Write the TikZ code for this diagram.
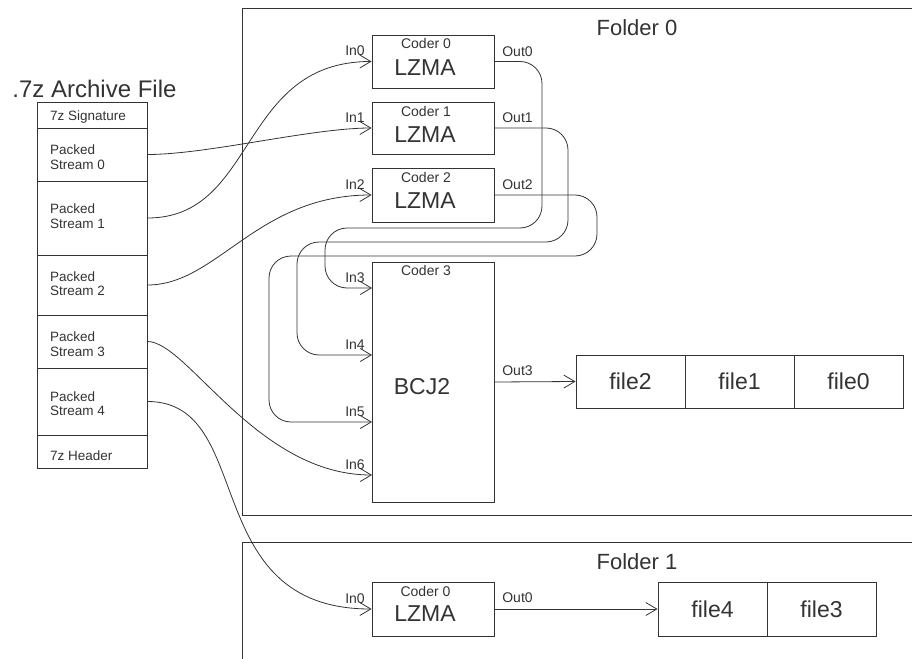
\documentclass[tikz,border=0pt]{standalone}
\usepackage{fontspec}
\setmainfont{Liberation Sans}
\usetikzlibrary{arrows.meta}
\definecolor{ink}{HTML}{333333}
\tikzset{
  cell/.style={draw=ink, line width=0.9pt, rectangle, inner sep=0pt, minimum width=#1},
  conn/.style={draw=ink, line width=0.8pt, -{Straight Barb[length=11pt,width=13pt,line width=0.8pt]}},
  lbl/.style={font=\fontsize{14}{16}\selectfont, inner sep=0pt, text=ink},
  small/.style={font=\fontsize{13.5}{14.5}\selectfont, inner sep=0pt, text=ink, align=left, anchor=west},
  big/.style={font=\fontsize{23}{26}\selectfont, inner sep=0pt, text=ink},
  frame/.style={draw=ink, line width=1pt}
}
\begin{document}
\begin{tikzpicture}[x=1pt,y=-1pt]
\useasboundingbox (0,0) rectangle (912,658);
% folders
\draw[frame] (913,9) -- (242,9) -- (242,515) -- (913,515);
\draw[frame] (913,542) -- (242,542) -- (242,659);
\node[font=\fontsize{22}{24}\selectfont, inner sep=0pt, text=ink] (fold0) at (637,27.5) {Folder 0};
\node[font=\fontsize{22}{24}\selectfont, inner sep=0pt, text=ink] (fold1) at (637,562) {Folder 1};
% archive file
\node[font=\fontsize{24}{26}\selectfont, inner sep=0pt, text=ink] (title) at (94.5,89) {.7z Archive File};
\node[cell=110pt, minimum height=26pt] (sig) at (92,115) {};
\node[cell=110pt, minimum height=53pt] (s0) at (92,154.5) {};
\node[cell=110pt, minimum height=74pt] (s1) at (92,218) {};
\node[cell=110pt, minimum height=60pt] (s2) at (92,285) {};
\node[cell=110pt, minimum height=53pt] (s3) at (92,341.5) {};
\node[cell=110pt, minimum height=67pt] (s4) at (92,401.5) {};
\node[cell=110pt, minimum height=33pt] (hdr) at (92,451.5) {};
\node[small] (tsig) at (50,117) {7z Signature};
\node[small] (ts0) at (50,157) {Packed\\Stream 0};
\node[small] (ts1) at (50,216) {Packed\\Stream 1};
\node[small] (ts2) at (50,283.5) {Packed\\Stream 2};
\node[small] (ts3) at (50,344) {Packed\\Stream 3};
\node[small] (ts4) at (50,403.5) {Packed\\Stream 4};
\node[small] (thdr) at (50,456) {7z Header};
% coders folder 0
\node[cell=122pt, minimum height=53pt] (c0) at (433,61.5) {};
\node[cell=122pt, minimum height=52pt] (c1) at (433,128) {};
\node[cell=122pt, minimum height=54pt] (c2) at (433,195) {};
\node[cell=122pt, minimum height=240pt] (c3) at (433,382) {};
\node[lbl] (c0t) at (426,43.5) {Coder 0};
\node[big] (c0n) at (425,67.5) {LZMA};
\node[lbl] (c1t) at (426,111.5) {Coder 1};
\node[big] (c1n) at (425,134.5) {LZMA};
\node[lbl] (c2t) at (426,177.5) {Coder 2};
\node[big] (c2n) at (425,200.5) {LZMA};
\node[lbl] (c3t) at (426,270) {Coder 3};
\node[big] (c3n) at (422,386.5) {BCJ2};
\coordinate (in3) at (372,288);
\coordinate (in4) at (372,355);
\coordinate (in5) at (372,422);
\coordinate (in6) at (372,475);
% labels of ports
\node[lbl] (li0) at (355,50.5) {In0};
\node[lbl] (li1) at (355,117.5) {In1};
\node[lbl] (li2) at (355,184.5) {In2};
\node[lbl] (li3) at (355,277.5) {In3};
\node[lbl] (li4) at (355,344.5) {In4};
\node[lbl] (li5) at (355,411.5) {In5};
\node[lbl] (li6) at (355,464.5) {In6};
\node[lbl] (lo0) at (517.5,51.5) {Out0};
\node[lbl] (lo1) at (517.5,117.5) {Out1};
\node[lbl] (lo2) at (517.5,184.5) {Out2};
\node[lbl] (lo3) at (517.5,370.5) {Out3};
% files folder 0
\node[cell=109pt, minimum height=53pt, font=\fontsize{23}{26}\selectfont, text=ink] (f2) at (630.5,381.5) {file2};
\node[cell=109pt, minimum height=53pt, font=\fontsize{23}{26}\selectfont, text=ink] (f1) at (739.5,381.5) {file1};
\node[cell=109pt, minimum height=53pt, font=\fontsize{23}{26}\selectfont, text=ink] (f0) at (848.5,381.5) {file0};
% folder 1
\node[cell=122pt, minimum height=54pt] (d0) at (433,609) {};
\node[lbl] (d0t) at (425.5,591) {Coder 0};
\node[big] (d0n) at (425,613.5) {LZMA};
\node[lbl] (dli0) at (355,598.5) {In0};
\node[lbl] (dlo0) at (517.5,598) {Out0};
\node[cell=109pt, minimum height=54pt, font=\fontsize{23}{26}\selectfont, text=ink] (f4) at (712.5,609) {file4};
\node[cell=109pt, minimum height=54pt, font=\fontsize{23}{26}\selectfont, text=ink] (f3) at (821.5,609) {file3};
% connectors from archive
\draw[conn] (s0.east) .. controls +(60,0) and +(-60,0) .. (c1.west);
\draw[conn] (s1.east) .. controls +(110,0) and +(-133,0) .. (c0.west);
\draw[conn] (s2.east) .. controls +(70,0) and +(-115,0) .. (c2.west);
\draw[conn] (s3.east) .. controls +(40,0) and +(-115,0) .. (in6);
\draw[conn] (s4.east) .. controls +(110,0) and +(-175,0) .. (d0.west);
% loops
\draw[conn, rounded corners=22pt] (c0.east) -- (542,61.5) -- (542,228) -- (325,228) -- (325,288) -- (in3);
\draw[conn, rounded corners=22pt] (c1.east) -- (568,128) -- (568,242) -- (297,242) -- (297,355) -- (in4);
\draw[conn, rounded corners=22pt] (c2.east) -- (597,195) -- (597,256) -- (269,256) -- (269,422) -- (in5);
% outputs
\draw[conn] (c3.east) -- (f2.west);
\draw[conn] (d0.east) -- (f4.west);
\end{tikzpicture}
\end{document}
